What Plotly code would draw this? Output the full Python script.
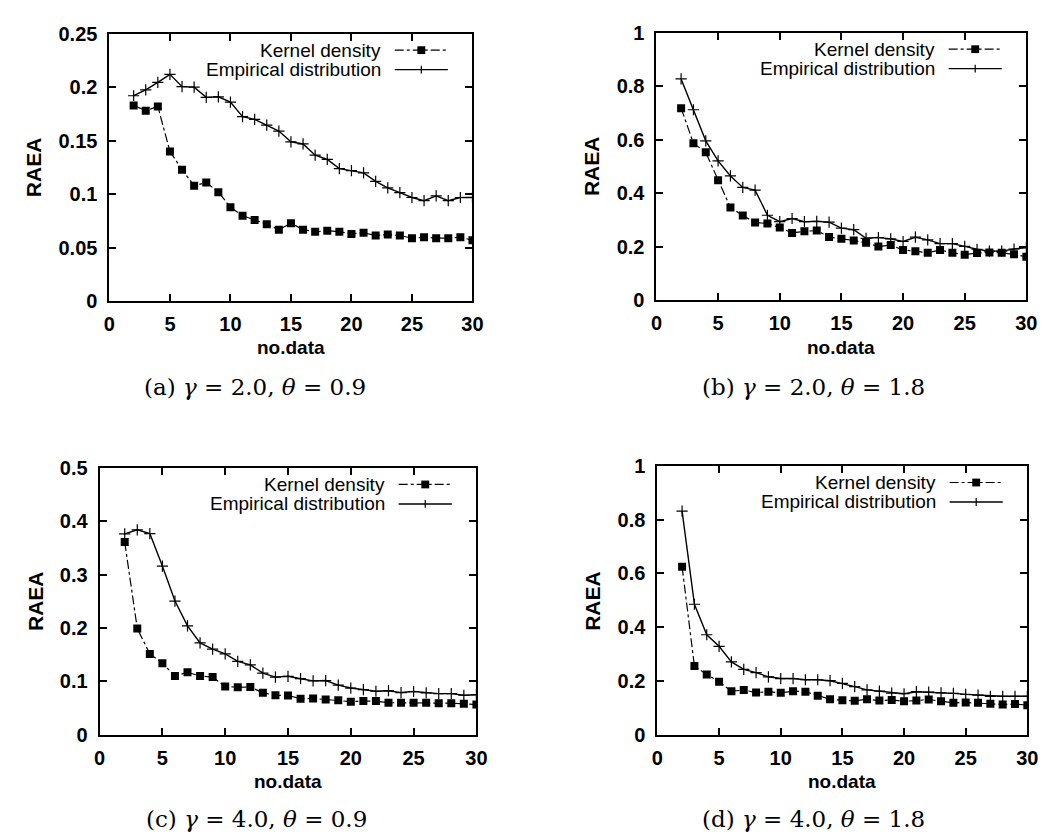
import plotly.graph_objects as go

W, H = 1052, 839

no_data = list(range(2, 31))

# (a) gamma=2.0, theta=0.9
kernel_a = [0.183, 0.178, 0.182, 0.140, 0.123, 0.108, 0.111, 0.102, 0.088, 0.080,
            0.076, 0.072, 0.067, 0.073, 0.067, 0.065, 0.066, 0.065, 0.063, 0.064,
            0.0615, 0.0625, 0.0615, 0.059, 0.060, 0.059, 0.059, 0.060, 0.057]
emp_a = [0.192, 0.1975, 0.2045, 0.212, 0.2005, 0.200, 0.1905, 0.191, 0.186, 0.1725,
         0.170, 0.1645, 0.159, 0.149, 0.147, 0.1365, 0.1325, 0.124, 0.122, 0.120,
         0.112, 0.106, 0.1015, 0.097, 0.094, 0.0985, 0.094, 0.097, 0.097]

# (b) gamma=2.0, theta=1.8
kernel_b = [0.718, 0.587, 0.553, 0.449, 0.347, 0.317, 0.291, 0.287, 0.272, 0.252,
            0.258, 0.261, 0.237, 0.230, 0.224, 0.215, 0.201, 0.207, 0.188, 0.184,
            0.178, 0.188, 0.178, 0.171, 0.177, 0.179, 0.178, 0.172, 0.163]
emp_b = [0.827, 0.712, 0.596, 0.521, 0.465, 0.422, 0.412, 0.318, 0.294, 0.306,
         0.294, 0.295, 0.292, 0.270, 0.264, 0.232, 0.235, 0.230, 0.220, 0.236,
         0.226, 0.212, 0.212, 0.202, 0.191, 0.184, 0.184, 0.192, 0.197]

# (c) gamma=4.0, theta=0.9
kernel_c = [0.361, 0.199, 0.1515, 0.134, 0.110, 0.117, 0.110, 0.108, 0.0905, 0.089,
            0.0895, 0.0785, 0.074, 0.0735, 0.0675, 0.068, 0.066, 0.0645, 0.062, 0.063,
            0.063, 0.060, 0.060, 0.060, 0.060, 0.059, 0.059, 0.058, 0.0565]
emp_c = [0.3765, 0.384, 0.377, 0.316, 0.2505, 0.204, 0.172, 0.1605, 0.1515, 0.1375,
         0.131, 0.1155, 0.108, 0.1095, 0.105, 0.101, 0.1015, 0.093, 0.0875, 0.0845,
         0.0815, 0.0825, 0.079, 0.081, 0.0785, 0.077, 0.077, 0.074, 0.075]

# (d) gamma=4.0, theta=1.8
kernel_d = [0.625, 0.2555, 0.224, 0.197, 0.162, 0.166, 0.157, 0.160, 0.156, 0.162,
            0.160, 0.145, 0.132, 0.128, 0.126, 0.132, 0.127, 0.1295, 0.1245, 0.127,
            0.131, 0.1245, 0.1185, 0.120, 0.1185, 0.115, 0.1125, 0.114, 0.110]
emp_d = [0.832, 0.4855, 0.372, 0.329, 0.271, 0.243, 0.231, 0.2155, 0.209, 0.209,
         0.2045, 0.2045, 0.201, 0.191, 0.179, 0.167, 0.162, 0.155, 0.1525, 0.160,
         0.1585, 0.156, 0.154, 0.150, 0.1475, 0.143, 0.143, 0.143, 0.143]

y_ranges = [0.25, 1.0, 0.5, 1.0]
y_dticks = [0.05, 0.2, 0.1, 0.2]
captions = ["(a) <i>γ</i> = 2.0, <i>θ</i> = 0.9",
            "(b) <i>γ</i> = 2.0, <i>θ</i> = 1.8",
            "(c) <i>γ</i> = 4.0, <i>θ</i> = 0.9",
            "(d) <i>γ</i> = 4.0, <i>θ</i> = 1.8"]
legend_names = ["Kernel density", "Empirical distribution"]
x_title = "no.data"
y_title = "RAEA"

kernels = [kernel_a, kernel_b, kernel_c, kernel_d]
emps = [emp_a, emp_b, emp_c, emp_d]

# plot boxes in pixels: left, right, top, bottom
boxes = [(97, 466, 15, 290), (653, 1029, 14, 289),
         (87, 470, 461, 735), (654, 1030, 459, 735)]
ytitle_x = [20, 587, 22, 588]
xtitle_y = [337, 337, 783, 783]
caption_pos = [(245, 378), (813, 378), (246, 822), (813, 822)]


def px(x):
    return x / W


def py(y):
    return 1 - y / H


fig = go.Figure()
annotations = []
shapes = []
layout_axes = {}

SANS = "Liberation Sans, Arial, sans-serif"
SERIF = "DejaVu Serif, serif"

for i in range(4):
    n = "" if i == 0 else str(i + 1)
    l, r, t, b = boxes[i]
    xa = "x" + n
    ya = "y" + n
    fig.add_trace(go.Scatter(
        x=no_data, y=kernels[i], xaxis=xa, yaxis=ya, mode="lines+markers",
        name=legend_names[0], showlegend=False,
        line=dict(color="black", width=1.2, dash="dashdot"),
        marker=dict(symbol="square", size=8, color="black")))
    fig.add_trace(go.Scatter(
        x=no_data, y=emps[i], xaxis=xa, yaxis=ya, mode="lines+markers",
        name=legend_names[1], showlegend=False,
        line=dict(color="black", width=1.4),
        marker=dict(symbol="cross-thin", size=8, color="black",
                    line=dict(color="black", width=1.2))))

    common = dict(showline=True, linecolor="black", linewidth=2, mirror="ticks",
                  ticks="inside", ticklen=7, tickwidth=1.5, tickcolor="black",
                  showgrid=False, zeroline=False,
                  tickfont=dict(family=SANS, size=20, color="black", weight="bold"))
    layout_axes["xaxis" + n] = dict(common, domain=[px(l), px(r)], range=[0, 30],
                                    dtick=5, tick0=0, anchor=ya,
                                    ticklabelstandoff=4)
    layout_axes["yaxis" + n] = dict(common, domain=[py(b), py(t)],
                                    range=[0, y_ranges[i]], dtick=y_dticks[i],
                                    tick0=0, anchor=xa, ticklabelstandoff=6)

    # axis titles
    annotations.append(dict(x=px((l + r) / 2), y=py(xtitle_y[i]), xref="paper",
                            yref="paper", text=x_title, showarrow=False,
                            xanchor="center", yanchor="middle",
                            font=dict(family=SANS, size=19, color="black",
                                      weight="bold")))
    annotations.append(dict(x=px(ytitle_x[i]), y=py((t + b) / 2), xref="paper",
                            yref="paper", text=y_title, showarrow=False,
                            textangle=-90, xanchor="center", yanchor="middle",
                            font=dict(family=SANS, size=21, color="black",
                                      weight="bold")))
    # captions
    cx, cy = caption_pos[i]
    annotations.append(dict(x=px(cx), y=py(cy), xref="paper", yref="paper",
                            text=captions[i], showarrow=False,
                            xanchor="center", yanchor="middle",
                            font=dict(family=SERIF, size=23, color="black")))

    # legend (text on the left, sample on the right)
    for k in range(2):
        ly = t + 17 + 20 * k
        annotations.append(dict(x=px(r - 91), y=py(ly), xref="paper",
                                yref="paper", text=legend_names[k],
                                showarrow=False, xanchor="right",
                                yanchor="middle",
                                font=dict(family=SANS, size=19, color="black")))
        shapes.append(dict(type="line", xref="paper", yref="paper",
                           x0=px(r - 79), x1=px(r - 25), y0=py(ly), y1=py(ly),
                           line=dict(color="black", width=1.2 if k == 0 else 1.4,
                                     dash="dashdot" if k == 0 else "solid")))
        mx = r - 52
        if k == 0:
            shapes.append(dict(type="rect", xref="paper", yref="paper",
                               x0=px(mx - 4), x1=px(mx + 4), y0=py(ly - 4),
                               y1=py(ly + 4), fillcolor="black",
                               line=dict(width=0)))
        else:
            shapes.append(dict(type="line", xref="paper", yref="paper",
                               x0=px(mx), x1=px(mx), y0=py(ly - 4),
                               y1=py(ly + 4),
                               line=dict(color="black", width=1.2)))

fig.update_layout(
    width=W, height=H, margin=dict(l=0, r=0, t=0, b=0),
    paper_bgcolor="white", plot_bgcolor="white",
    annotations=annotations, shapes=shapes, **layout_axes)

fig.write_html("out.html")
